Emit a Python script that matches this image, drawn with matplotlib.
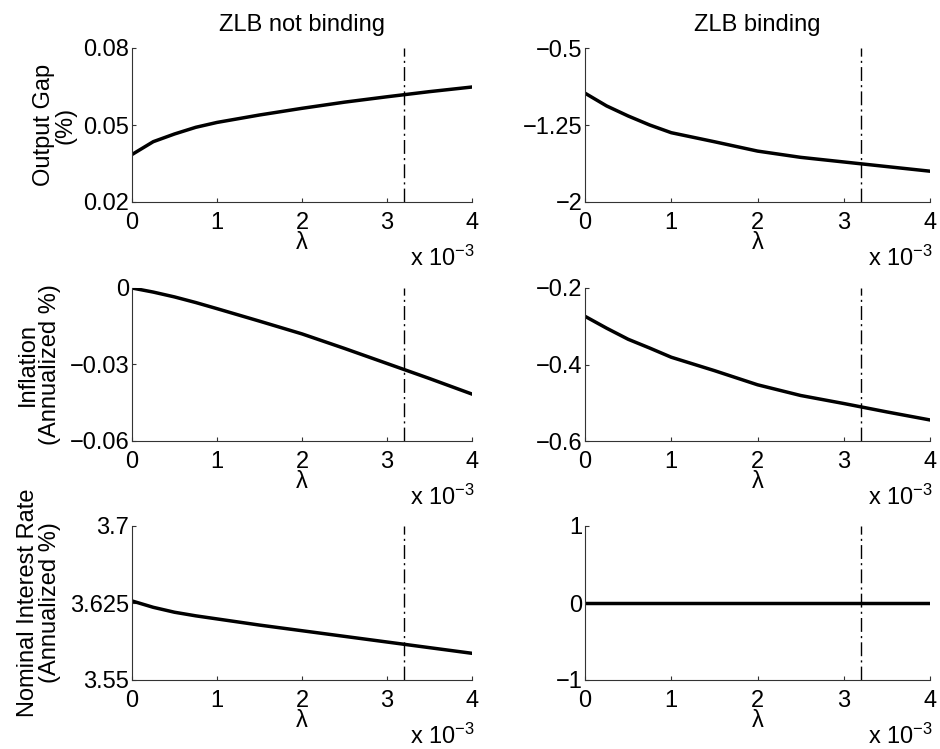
import numpy as np
import matplotlib.pyplot as plt

plt.rcParams['font.family'] = ['Liberation Sans', 'DejaVu Sans']
plt.rcParams['mathtext.fontset'] = 'custom'
plt.rcParams['mathtext.rm'] = 'Liberation Sans'
plt.rcParams['mathtext.it'] = 'Liberation Sans:italic'

# lambda grid (in units of 1e-3)
lam = [0, 0.25, 0.5, 0.75, 1, 1.5, 2, 2.5, 3, 3.5, 4]
lam_star = 3.2

# ZLB not binding
gap_nb = [0.0385, 0.0435, 0.0465, 0.0491, 0.0510, 0.0539, 0.0565, 0.0589, 0.0610, 0.0630, 0.0648]
infl_nb = [0.0, -0.0016, -0.0035, -0.0057, -0.0081, -0.0130, -0.0180, -0.0237, -0.0296, -0.0355, -0.0416]
rate_nb = [3.627, 3.6208, 3.616, 3.6125, 3.6095, 3.6035, 3.598, 3.5925, 3.587, 3.5815, 3.576]

# ZLB binding
gap_b = [-0.94, -1.064, -1.162, -1.25, -1.325, -1.413, -1.504, -1.565, -1.61, -1.655, -1.70]
infl_b = [-0.274, -0.305, -0.334, -0.357, -0.381, -0.416, -0.453, -0.481, -0.502, -0.524, -0.545]
rate_b = [0, 0, 0, 0, 0, 0, 0, 0, 0, 0, 0]

rows = [
    ("Output Gap\n(%)", gap_nb, [0.02, 0.05, 0.08], ["0.02", "0.05", "0.08"],
     gap_b, [-2, -1.25, -0.5], ["\u22122", "\u22121.25", "\u22120.5"], -0.162),
    ("Inflation\n(Annualized %)", infl_nb, [-0.06, -0.03, 0], ["\u22120.06", "\u22120.03", "0"],
     infl_b, [-0.6, -0.4, -0.2], ["\u22120.6", "\u22120.4", "\u22120.2"], -0.209),
    ("Nominal Interest Rate\n(Annualized %)", rate_nb, [3.55, 3.625, 3.7], ["3.55", "3.625", "3.7"],
     rate_b, [-1, 0, 1], ["\u22121", "0", "1"], -0.209),
]

W, H = 940, 749
fig = plt.figure(figsize=(W / 100, H / 100), dpi=100)

bottoms = [202, 441, 680]
heights = [154, 153, 154]
fs = 17


def style(ax, yt, ylab, hpx):
    ax.plot([lam_star, lam_star], [yt[0], yt[-1]], color='k', lw=1.0,
            linestyle=(0, (10, 3, 1.5, 3)))
    ax.set_xlim(0, 4)
    ax.set_ylim(yt[0], yt[-1])
    ax.set_xticks([0, 1, 2, 3, 4])
    ax.set_xticklabels(["0", "1", "2", "3", "4"])
    ax.set_yticks(yt)
    ax.set_yticklabels(ylab)
    for s in ['top', 'right']:
        ax.spines[s].set_visible(False)
    for s in ['left', 'bottom']:
        ax.spines[s].set_color('0.2')
        ax.spines[s].set_linewidth(0.8)
    ax.tick_params(direction='in', length=3, width=0.8, color='0.2',
                   labelsize=fs)
    ax.tick_params(axis='x', pad=7)
    ax.tick_params(axis='y', pad=2)
    ax.set_xlabel("\u03bb", fontsize=fs)
    ax.xaxis.set_label_coords(0.5, -30 / hpx)
    ax.annotate("x 10$^{\u22123}$", xy=(1, 0), xycoords='axes fraction',
                xytext=(2, -46), textcoords='offset points',
                ha='right', va='baseline', fontsize=fs)


for i, (ylabel, ynb, ytnb, ylnb, yb, ytb, ylb, lx) in enumerate(rows):
    b = 1 - bottoms[i] / H
    h = heights[i] / H
    axl = fig.add_axes([132 / W, b, 340 / W, h])
    axr = fig.add_axes([585 / W, b, 345 / W, h])

    axl.plot(lam, ynb, color='k', lw=2.5)
    style(axl, ytnb, ylnb, heights[i])
    axl.set_ylabel(ylabel, fontsize=fs, linespacing=1.0)
    axl.yaxis.set_label_coords(lx, 0.5)

    axr.plot(lam, yb, color='k', lw=2.5)
    style(axr, ytb, ylb, heights[i])

    if i == 0:
        axl.set_title("ZLB not binding", fontsize=fs, pad=12)
        axr.set_title("ZLB binding", fontsize=fs, pad=12)

fig.savefig("out.png", dpi=100)
